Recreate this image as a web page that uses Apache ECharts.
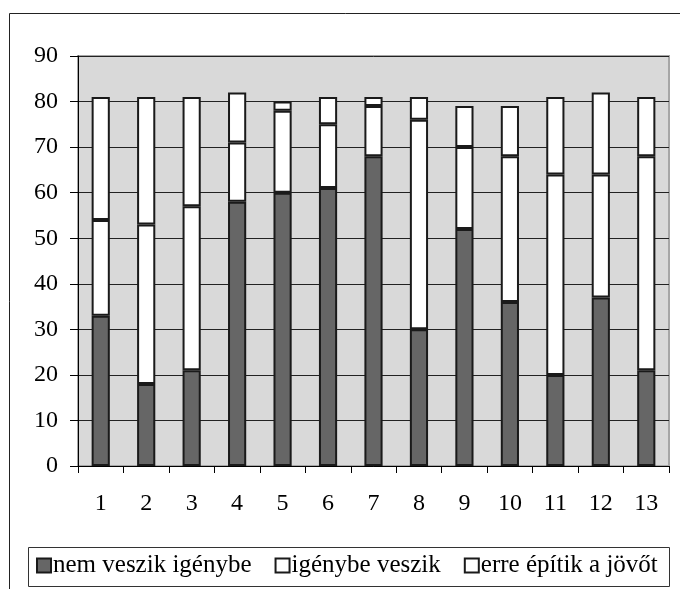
<!DOCTYPE html>
<html>
<head>
<meta charset="utf-8">
<script src="https://cdn.jsdelivr.net/npm/echarts@6/dist/echarts.min.js"></script>
<style>
  html, body { margin: 0; padding: 0; background: #fff; }
  #chart { width: 680px; height: 589px; }
</style>
</head>
<body>
<div id="chart"></div>
<script>
const categories = ["1", "2", "3", "4", "5", "6", "7", "8", "9", "10", "11", "12", "13"];
const nemVeszik = [33, 18, 21, 58, 60, 61, 68, 30, 52, 36, 20, 37, 21];
const igenybeVeszik = [21, 35, 36, 13, 18, 14, 11, 46, 18, 32, 44, 27, 47];
const erreEpitik = [27, 28, 24, 11, 2, 6, 2, 5, 9, 11, 17, 18, 13];

const chart = echarts.init(document.getElementById("chart"));
const serif = "Liberation Serif";

const barStyle = (color) => ({
  color: color,
  borderColor: "#1a1a1a",
  borderWidth: 2,
});

const option = {
  animation: false,
  textStyle: { fontFamily: serif },
  graphic: [
    {
      type: "rect",
      shape: { x: 9.5, y: 13.5, width: 700, height: 600 },
      style: { fill: "none", stroke: "#222", lineWidth: 1 },
    },
    {
      type: "rect",
      shape: { x: 28.5, y: 547.5, width: 641, height: 39 },
      style: { fill: "none", stroke: "#333", lineWidth: 1 },
    },
  ],
  grid: {
    left: 78,
    right: 11,
    top: 56,
    bottom: 123,
    show: true,
    backgroundColor: "#d9d9d9",
    borderColor: "#a6a6a6",
    borderWidth: 2,
  },
  legend: {
    left: 36,
    top: 553,
    padding: 0,
    itemWidth: 14,
    itemHeight: 14,
    itemGap: 23,
    icon: "rect",
    textStyle: { fontFamily: serif, fontSize: 25, color: "#000", padding: [0, 0, 0, -3] },
    data: ["nem veszik igénybe", "igénybe veszik", "erre építik a jövőt"],
  },
  xAxis: {
    type: "category",
    data: categories,
    axisLine: { lineStyle: { color: "#000", width: 1 } },
    axisTick: { show: true, length: 7, lineStyle: { color: "#000" } },
    axisLabel: { fontFamily: serif, fontSize: 24, color: "#000", margin: 26 },
  },
  yAxis: {
    type: "value",
    min: 0,
    max: 90,
    interval: 10,
    axisLine: { show: true, lineStyle: { color: "#000", width: 1 } },
    axisTick: { show: true, length: 8, lineStyle: { color: "#000" } },
    axisLabel: { fontFamily: serif, fontSize: 24, color: "#000", margin: 20 },
    splitLine: { lineStyle: { color: "#222", width: 1 } },
  },
  series: [
    {
      name: "nem veszik igénybe",
      type: "bar",
      stack: "total",
      barWidth: "40%",
      data: nemVeszik,
      itemStyle: barStyle("#666666"),
    },
    {
      name: "igénybe veszik",
      type: "bar",
      stack: "total",
      data: igenybeVeszik,
      itemStyle: barStyle("#ffffff"),
    },
    {
      name: "erre építik a jövőt",
      type: "bar",
      stack: "total",
      data: erreEpitik,
      itemStyle: barStyle("#ffffff"),
    },
  ],
};

chart.setOption(option);
</script>
</body>
</html>
